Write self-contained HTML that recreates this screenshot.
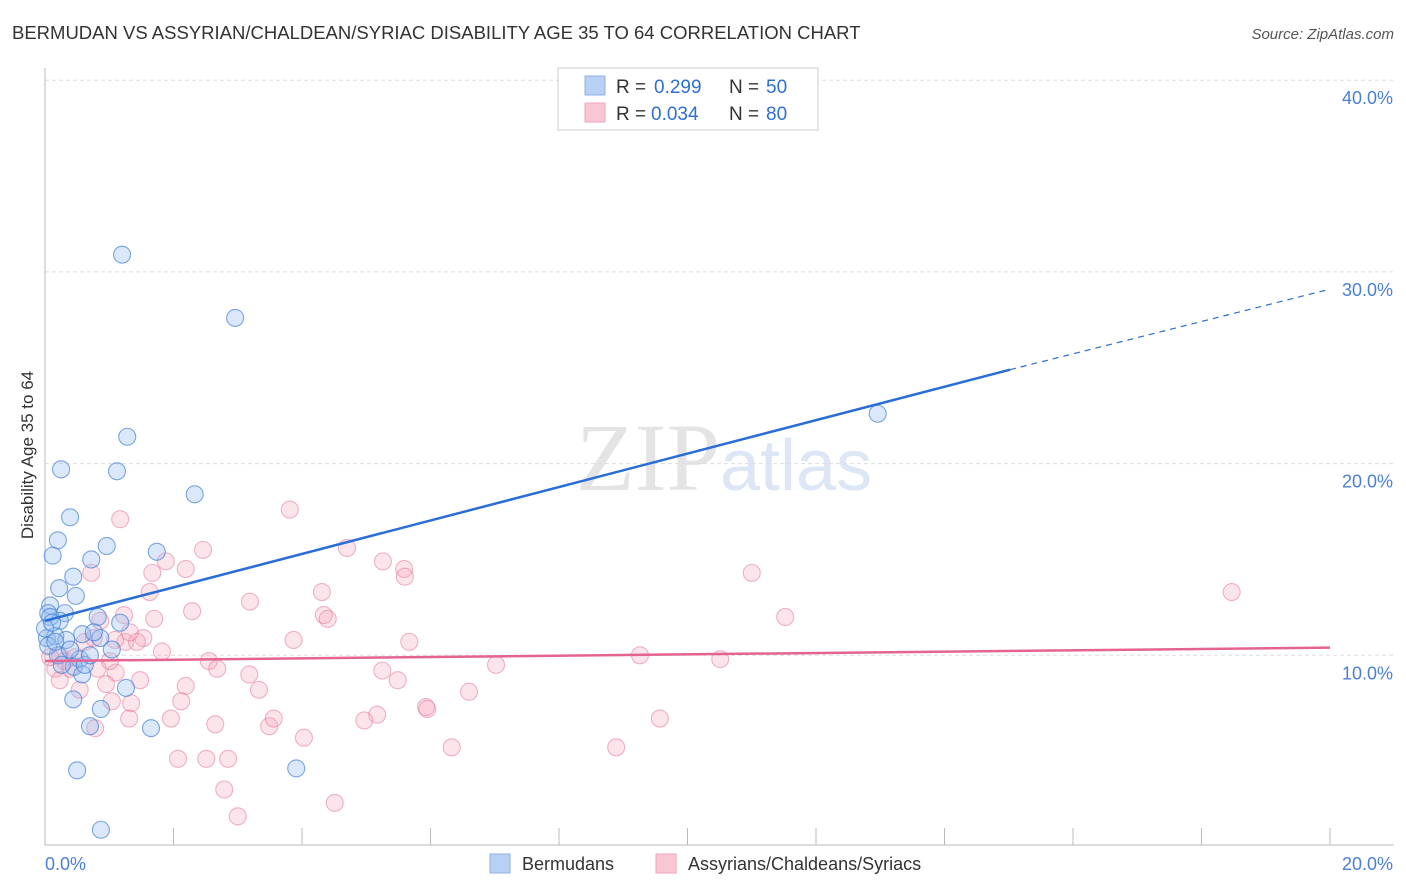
<!DOCTYPE html>
<html><head><meta charset="utf-8"><style>
body{margin:0;background:#fff;font-family:"Liberation Sans",sans-serif}
#wrap{position:relative;width:1406px;height:892px;overflow:hidden}
</style></head><body>
<div id="wrap">
<svg id="svg" width="1406" height="892" xmlns="http://www.w3.org/2000/svg">
<text x="12" y="39" font-size="18.5" fill="#333">BERMUDAN VS ASSYRIAN/CHALDEAN/SYRIAC DISABILITY AGE 35 TO 64 CORRELATION CHART</text>
<text x="1394" y="39" font-size="15" fill="#555" text-anchor="end" font-style="italic">Source: ZipAtlas.com</text>
<text x="33" y="455" font-size="17" fill="#333" text-anchor="middle" transform="rotate(-90 33 455)">Disability Age 35 to 64</text>
<text x="720" y="490" font-size="96" fill="#e4e4e4" text-anchor="end" font-family="Liberation Serif">ZIP</text>
<text x="720" y="490" font-size="72" fill="#dce6f5">atlas</text>
<g id="grid"></g><g id="axes"></g><g id="pts"></g><g id="lines"></g>
<g>
<rect x="558" y="68" width="260" height="62" fill="#fff" stroke="#ccc"/>
<rect x="585" y="76" width="20" height="19" fill="#b7d0f4" stroke="#8fb1e5"/>
<rect x="585" y="103" width="20" height="19" fill="#f9c6d4" stroke="#eea5bb"/>
<text x="616" y="93" font-size="19" fill="#333">R =</text>
<text x="654" y="93" font-size="19" fill="#2f6fd4">0.299</text>
<text x="729" y="93" font-size="19" fill="#333">N =</text>
<text x="766" y="93" font-size="19" fill="#2f6fd4">50</text>
<text x="616" y="120" font-size="19" fill="#333">R =</text>
<text x="651" y="120" font-size="19" fill="#2f6fd4">0.034</text>
<text x="729" y="120" font-size="19" fill="#333">N =</text>
<text x="766" y="120" font-size="19" fill="#2f6fd4">80</text>
</g>
<g>
<rect x="490" y="854" width="20" height="19" fill="#b7d0f4" stroke="#8fb1e5"/>
<text x="522" y="870" font-size="18" fill="#333">Bermudans</text>
<rect x="656" y="854" width="20" height="19" fill="#f9c6d4" stroke="#eea5bb"/>
<text x="688" y="870" font-size="18" fill="#333">Assyrians/Chaldeans/Syriacs</text>
</g>
</svg>
</div>
<script>
const yTicks=[10,20,30,40];
const yTickLabels=["10.0%","20.0%","30.0%","40.0%"];
const xTicks=[0,2,4,6,8,10,12,14,16,18,20];
const blueX=[1.2,2.96,12.96,1.28,0.25,1.12,2.33,0.39,0.2,0.96,0.72,1.74,0.12,0.44,0.22,0.48,0.08,0.05,0.31,0.82,1.17,0.23,0.58,0.03,0.16,0.86,0.33,0.76,1.04,0.2,0.54,0.45,0.58,1.26,0.44,0.87,0.7,1.65,0.5,3.91,0.87,0.08,0.0,0.11,0.39,0.62,0.26,0.7,0.05,0.16];
const blueY=[30.9,27.6,22.6,21.4,19.7,19.6,18.4,17.2,16.0,15.7,15.0,15.4,15.2,14.1,13.5,13.1,12.6,12.2,12.2,12.0,11.7,11.8,11.1,10.9,11.0,10.9,10.8,11.2,10.3,10.0,9.8,9.4,9.0,8.3,7.7,7.2,6.3,6.2,4.0,4.1,0.9,12.0,11.4,11.7,10.3,9.5,9.5,10.0,10.5,10.7];
const pinkX=[1.17,3.81,0.72,1.67,2.19,1.88,2.46,4.7,5.26,5.59,5.6,11.0,18.47,4.31,1.63,2.29,3.19,1.23,1.7,4.34,4.4,11.52,1.53,1.25,1.43,3.87,5.67,0.76,1.09,1.82,9.26,10.51,7.02,2.55,2.68,3.18,5.25,5.49,1.1,0.82,0.39,0.16,0.95,1.48,2.19,3.33,6.6,1.04,2.12,1.34,5.17,5.93,5.95,4.97,9.57,1.31,1.96,2.65,3.49,3.56,0.78,4.03,6.33,8.89,2.07,2.51,2.85,2.79,4.51,3.0,0.23,0.31,0.47,0.62,0.86,0.08,0.23,0.54,1.01,1.32];
const pinkY=[17.1,17.6,14.3,14.3,14.5,14.9,15.5,15.6,14.9,14.5,14.1,14.3,13.3,13.3,13.3,12.3,12.8,12.1,11.9,12.1,11.9,12.0,10.9,10.7,10.7,10.8,10.7,10.9,10.8,10.2,10.0,9.8,9.5,9.7,9.3,9.0,9.2,8.7,9.1,9.3,9.3,9.3,8.5,8.7,8.4,8.2,8.1,7.6,7.6,7.5,6.9,7.3,7.2,6.6,6.7,6.7,6.7,6.4,6.3,6.7,6.2,5.7,5.2,5.2,4.6,4.6,4.6,3.0,2.3,1.6,10.0,9.7,9.9,10.7,11.8,9.9,8.7,8.2,9.7,11.2];
const blueTrend=[11.8,24.9,29.1];
const pinkTrend=[9.7,10.4];
const NS="http://www.w3.org/2000/svg";
const X=v=>45+v*64.25, Y=v=>847-v*19.17;
function mk(t,a,p){const e=document.createElementNS(NS,t);for(const k in a)e.setAttribute(k,a[k]);p.appendChild(e);return e;}
const grid=document.getElementById('grid'),axes=document.getElementById('axes'),pts=document.getElementById('pts'),lines=document.getElementById('lines');
yTicks.forEach((v,i)=>{
 const l=mk('line',{x1:45,x2:1394,y1:Y(v),y2:Y(v),stroke:'#ddd','stroke-dasharray':'4,3'},grid);
 
 
 const t=mk('text',{x:1393,y:Y(v)+24,'font-size':18,fill:'#4a7fd6','text-anchor':'end'},axes);
 t.textContent=yTickLabels[i];
 
 
});
const ya=mk('line',{x1:45,x2:45,y1:68,y2:845,stroke:'#bbb'},axes);


const xa=mk('line',{x1:45,x2:1394,y1:845,y2:845,stroke:'#bbb'},axes);


xTicks.forEach(v=>{const t=mk('line',{x1:X(v),x2:X(v),y1:828,y2:845,stroke:'#bbb'},axes);
 
 });
[["0.0%",45,'start'],["20.0%",1393,'end']].forEach(a=>{const t=mk('text',{x:a[1],y:870,'font-size':18,fill:'#4a7fd6','text-anchor':a[2]},axes);t.textContent=a[0];
 
 });
pinkX.forEach((x,i)=>{const c=mk('circle',{cx:X(x),cy:Y(pinkY[i]),r:8.5,fill:'rgba(244,165,190,0.3)',stroke:'rgba(230,130,160,0.6)','stroke-width':1.1},pts);
 
 });
blueX.forEach((x,i)=>{const c=mk('circle',{cx:X(x),cy:Y(blueY[i]),r:8.5,fill:'rgba(150,190,240,0.35)',stroke:'rgba(70,130,215,0.7)','stroke-width':1.1},pts);
 
 });
const b1=mk('line',{x1:X(0),y1:Y(blueTrend[0]),x2:X(15.02),y2:Y(blueTrend[1]),stroke:'#2a6dd6','stroke-width':2.5},lines);


const b2=mk('line',{x1:X(15.02),y1:Y(blueTrend[1]),x2:X(20),y2:Y(blueTrend[2]),stroke:'#2a6dd6','stroke-width':1.2,'stroke-dasharray':'6,5'},lines);


const p1=mk('line',{x1:X(0),y1:Y(pinkTrend[0]),x2:X(20),y2:Y(pinkTrend[1]),stroke:'#e56390','stroke-width':2.5},lines);


</script>
</body></html>
